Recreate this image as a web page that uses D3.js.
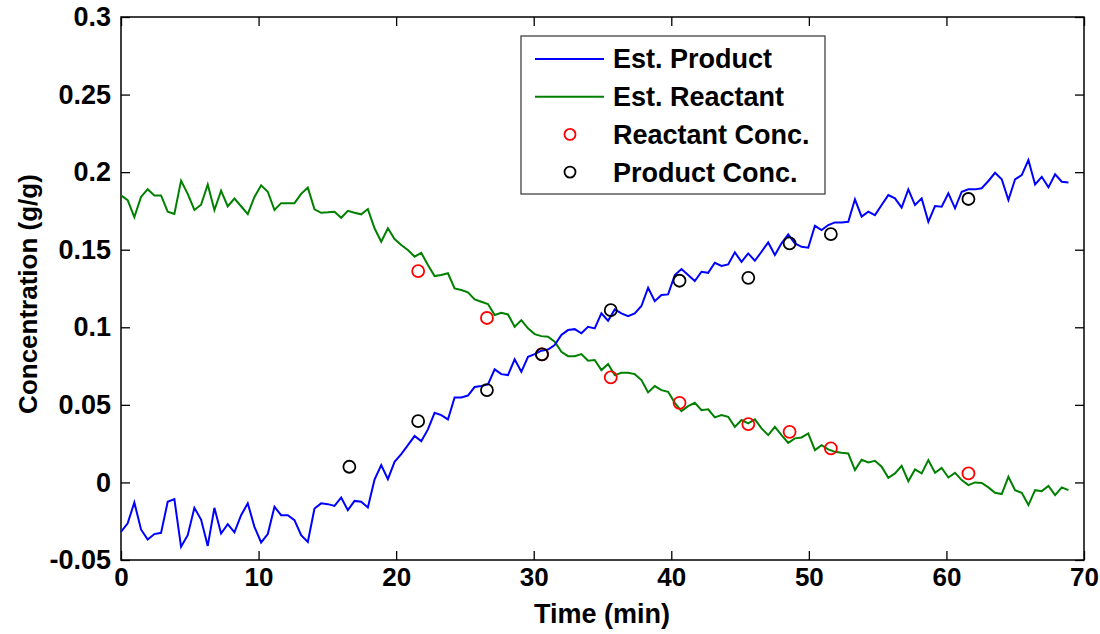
<!DOCTYPE html>
<html>
<head>
<meta charset="utf-8">
<script src="https://cdn.jsdelivr.net/npm/d3@7"></script>
<style>
  body { margin: 0; background: #fff; }
  svg text { font-family: "Liberation Sans", Arial, sans-serif; font-weight: bold; }
</style>
</head>
<body>
<svg id="chart"></svg>
<script>
let width = 1100;
let height = 634;
let plot = { left: 121, right: 1084, top: 17, bottom: 560 };

// sampling interval of the estimated signals (min)
const sampleStep = 0.485;

const estProduct = [
  -0.0318, -0.0264, -0.0129, -0.0303, -0.0368, -0.0333, -0.0325, -0.0125, -0.0108, -0.0415,
  -0.034, -0.0164, -0.0239, -0.0409, -0.0164, -0.0329, -0.0269, -0.0322, -0.0211, -0.0135,
  -0.0286, -0.0387, -0.0333, -0.0157, -0.0211, -0.0211, -0.0243, -0.034, -0.0383, -0.0168,
  -0.0135, -0.014, -0.0151, -0.0097, -0.0179, -0.0119, -0.0125, -0.0161, 0.0019, 0.0112,
  0.0021, 0.0133, 0.0182, 0.024, 0.0299, 0.0266, 0.0342, 0.0449, 0.0434, 0.0406,
  0.0548, 0.0548, 0.056, 0.0615, 0.0622, 0.0632, 0.0729, 0.0698, 0.0692, 0.0793,
  0.0713, 0.081, 0.0827, 0.0849, 0.0857, 0.0885, 0.095, 0.0982, 0.0988, 0.0961,
  0.1003, 0.0993, 0.109, 0.1042, 0.1115, 0.109, 0.1072, 0.109, 0.1137, 0.1255,
  0.1168, 0.1208, 0.1212, 0.1337, 0.1375, 0.1337, 0.1298, 0.1358, 0.1351, 0.1416,
  0.1395, 0.1405, 0.1483, 0.1422, 0.1476, 0.1429, 0.1487, 0.1547, 0.1466, 0.1541,
  0.1599, 0.1541, 0.1519, 0.1513, 0.1654, 0.1627, 0.1659, 0.1676, 0.1676, 0.168,
  0.1825, 0.1713, 0.1745, 0.1723, 0.1788, 0.1852, 0.1831, 0.1771, 0.1889, 0.1788,
  0.1831, 0.168, 0.1781, 0.1777, 0.1863, 0.1767, 0.1874, 0.1889, 0.1889, 0.1896,
  0.1943, 0.1996, 0.1954, 0.182, 0.1954, 0.1981, 0.2078, 0.1921, 0.197, 0.1902,
  0.1986, 0.1938, 0.1934,
];

const estReactant = [
  0.185, 0.182, 0.171, 0.184, 0.189, 0.185, 0.185, 0.1745, 0.173, 0.1945,
  0.186, 0.1756, 0.179, 0.192, 0.1756, 0.188, 0.178, 0.183, 0.178, 0.173,
  0.184, 0.1915, 0.1874, 0.1756, 0.18, 0.18, 0.18, 0.186, 0.19, 0.176,
  0.1738, 0.1741, 0.1745, 0.1706, 0.1751, 0.1738, 0.1728, 0.1762, 0.1638, 0.1551,
  0.1638, 0.1569, 0.153, 0.1498, 0.1455, 0.148, 0.1401, 0.133, 0.1337, 0.1348,
  0.1251, 0.124, 0.1225, 0.118, 0.1165, 0.115, 0.1079, 0.1094, 0.1083, 0.1003,
  0.1046, 0.0993, 0.0956, 0.0943, 0.0939, 0.0907, 0.0842, 0.0814, 0.0814, 0.0827,
  0.0784, 0.0789, 0.0724, 0.0763, 0.0692, 0.0707, 0.0707, 0.0698, 0.066, 0.058,
  0.0621, 0.0595, 0.0584, 0.0513, 0.046, 0.0492, 0.0513, 0.0466, 0.0471, 0.0419,
  0.0434, 0.0423, 0.0358, 0.0402, 0.038, 0.0406, 0.0348, 0.0305, 0.0358, 0.0305,
  0.0255, 0.0284, 0.029, 0.0316, 0.0208, 0.024, 0.0213, 0.0197, 0.0191, 0.0187,
  0.008, 0.0146, 0.0129, 0.0139, 0.0101, 0.003, 0.0058, 0.0107, 0.0008, 0.0084,
  0.0058, 0.0144, 0.0062, 0.0094, 0.0032, 0.0062, 0.0015, -0.0017, 0, -0.0003,
  -0.0032, -0.0067, -0.0075, 0.0036, -0.005, -0.0067, -0.0146, -0.005, -0.0056, -0.0022,
  -0.0082, -0.0032, -0.005,
];

// lab samples
const productTimes = [16.6, 21.6, 26.6, 30.6, 35.6, 40.6, 45.6, 48.6, 51.6, 61.6];
const productConc = [0.0101, 0.0395, 0.0595, 0.0825, 0.111, 0.130, 0.1319, 0.1541, 0.160, 0.1827];
const reactantTimes = [21.6, 26.6, 30.6, 35.6, 40.6, 45.6, 48.6, 51.6, 61.6];
const reactantConc = [0.1362, 0.106, 0.0825, 0.0677, 0.0513, 0.0376, 0.0326, 0.0219, 0.0058];

const xTicks = [0, 10, 20, 30, 40, 50, 60, 70];
const yTicks = [-0.05, 0, 0.05, 0.1, 0.15, 0.2, 0.25, 0.3];

const legendItems = [
  { label: "Est. Product", kind: "line", color: "#0000ff" },
  { label: "Est. Reactant", kind: "line", color: "#008000" },
  { label: "Reactant Conc.", kind: "circle", color: "#ff0000" },
  { label: "Product Conc.", kind: "circle", color: "#000000" },
];

let svg = d3.select("svg#chart").attr("width", width).attr("height", height);

let xScale = d3.scaleLinear().domain([0, 70]).range([plot.left, plot.right]);
let yScale = d3.scaleLinear().domain([-0.05, 0.3]).range([plot.bottom, plot.top]);

let productSeries = estProduct.map((v, i) => ({ t: i * sampleStep, v: v }));
let reactantSeries = estReactant.map((v, i) => ({ t: i * sampleStep, v: v }));

drawAxes();
drawLines();
drawSamples();
drawLegend();

function styleAxis(size) {
  return (g) => {
    g.select(".domain").remove();
    g.selectAll("line").attr("stroke", "#000").attr("stroke-width", 1.3);
    g.selectAll("text").attr("fill", "#000").style("font-size", size + "px");
  };
}

function drawAxes() {
  let fmt = (d) => String(+d.toFixed(2));

  svg.append("g")
    .attr("transform", `translate(0, ${plot.bottom})`)
    .call(d3.axisBottom(xScale).tickValues(xTicks).tickSizeInner(-9).tickSizeOuter(0).tickPadding(8))
    .call(styleAxis(26));

  svg.append("g")
    .attr("transform", `translate(0, ${plot.top})`)
    .call(d3.axisTop(xScale).tickValues(xTicks).tickSizeInner(-9).tickSizeOuter(0).tickFormat(""))
    .call(styleAxis(26));

  svg.append("g")
    .attr("transform", `translate(${plot.left}, 0)`)
    .call(d3.axisLeft(yScale).tickValues(yTicks).tickSizeInner(-9).tickSizeOuter(0).tickPadding(10).tickFormat(fmt))
    .call(styleAxis(27));

  svg.append("g")
    .attr("transform", `translate(${plot.right}, 0)`)
    .call(d3.axisRight(yScale).tickValues(yTicks).tickSizeInner(-9).tickSizeOuter(0).tickFormat(""))
    .call(styleAxis(27));

  svg.append("rect")
    .attr("x", plot.left)
    .attr("y", plot.top)
    .attr("width", plot.right - plot.left)
    .attr("height", plot.bottom - plot.top)
    .attr("fill", "none")
    .attr("stroke", "#000")
    .attr("stroke-width", 1.5);

  svg.append("text")
    .attr("x", 602)
    .attr("y", 623)
    .attr("text-anchor", "middle")
    .style("font-size", "27px")
    .text("Time (min)");

  svg.append("text")
    .attr("transform", `translate(37, 294) rotate(-90)`)
    .attr("text-anchor", "middle")
    .style("font-size", "26px")
    .text("Concentration (g/g)");
}

function drawLines() {
  let line = d3.line().x((d) => xScale(d.t)).y((d) => yScale(d.v));

  svg.append("path")
    .datum(reactantSeries)
    .attr("d", line)
    .attr("fill", "none")
    .attr("stroke", "#008000")
    .attr("stroke-width", 2);

  svg.append("path")
    .datum(productSeries)
    .attr("d", line)
    .attr("fill", "none")
    .attr("stroke", "#0000ff")
    .attr("stroke-width", 2);
}

function drawSamples() {
  svg.append("g")
    .selectAll("circle")
    .data(reactantTimes.map((t, i) => ({ t: t, v: reactantConc[i] })))
    .join("circle")
    .attr("cx", (d) => xScale(d.t))
    .attr("cy", (d) => yScale(d.v))
    .attr("r", 6)
    .attr("fill", "none")
    .attr("stroke", "#ff0000")
    .attr("stroke-width", 1.8);

  svg.append("g")
    .selectAll("circle")
    .data(productTimes.map((t, i) => ({ t: t, v: productConc[i] })))
    .join("circle")
    .attr("cx", (d) => xScale(d.t))
    .attr("cy", (d) => yScale(d.v))
    .attr("r", 6)
    .attr("fill", "none")
    .attr("stroke", "#000")
    .attr("stroke-width", 1.8);
}

function drawLegend() {
  let lg = svg.append("g").attr("transform", "translate(521, 36)");

  lg.append("rect")
    .attr("width", 304)
    .attr("height", 158)
    .attr("fill", "#fff")
    .attr("stroke", "#333")
    .attr("stroke-width", 1.2);

  let rows = lg.selectAll("g.item")
    .data(legendItems)
    .join("g")
    .attr("class", "item")
    .attr("transform", (d, i) => `translate(0, ${23 + i * 37.7})`);

  rows.filter((d) => d.kind === "line")
    .append("line")
    .attr("x1", 14)
    .attr("x2", 83)
    .attr("stroke", (d) => d.color)
    .attr("stroke-width", 2);

  rows.filter((d) => d.kind === "circle")
    .append("circle")
    .attr("cx", 49)
    .attr("r", 5.5)
    .attr("fill", "none")
    .attr("stroke", (d) => d.color)
    .attr("stroke-width", 1.8);

  rows.append("text")
    .attr("x", 92)
    .attr("dy", "0.35em")
    .style("font-size", "27px")
    .text((d) => d.label);
}
</script>
</body>
</html>
